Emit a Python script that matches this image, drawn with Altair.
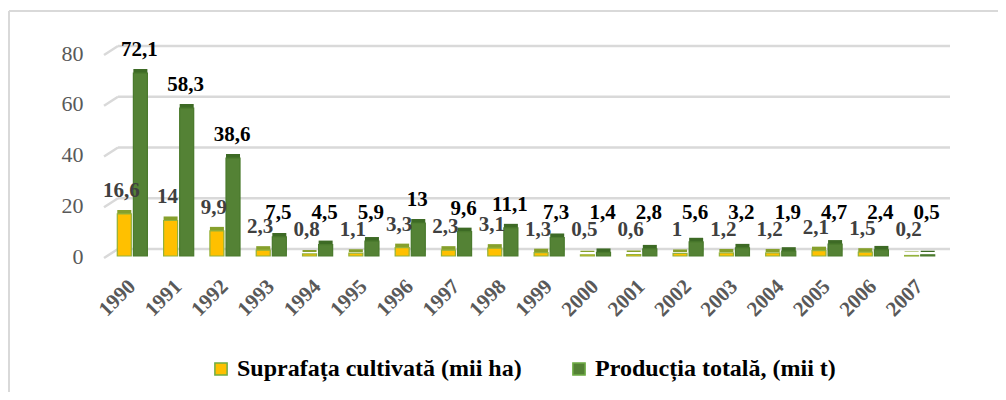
import altair as alt
import pandas as pd

years = [str(y) for y in range(1990, 2008)]
series_names = ["Suprafața cultivată (mii ha)", "Producția totală, (mii t)"]
suprafata = [16.6, 14, 9.9, 2.3, 0.8, 1.1, 3.3, 2.3, 3.1, 1.3, 0.5, 0.6, 1, 1.2, 1.2, 2.1, 1.5, 0.2]
productia = [72.1, 58.3, 38.6, 7.5, 4.5, 5.9, 13, 9.6, 11.1, 7.3, 1.4, 2.8, 5.6, 3.2, 1.9, 4.7, 2.4, 0.5]
y_ticks = [0, 20, 40, 60, 80]

rows = []
for y, a, b in zip(years, suprafata, productia):
    rows.append({"year": y, "series": series_names[0], "value": a, "label": f"{a:g}".replace(".", ",")})
    rows.append({"year": y, "series": series_names[1], "value": b, "label": f"{b:g}".replace(".", ",")})
df = pd.DataFrame(rows)

SERIF = "'Liberation Serif', 'Times New Roman', Times, 'DejaVu Serif', serif"
W, H = 848, 203

x_enc = alt.X("year:N", sort=years, scale=alt.Scale(paddingInner=0.35, paddingOuter=0.33),
              axis=alt.Axis(title=None, labelAngle=-45, labelFont=SERIF, labelFontSize=21,
                            labelFontWeight="bold", labelColor="#595959", labelPadding=27,
                            domain=False, ticks=False, grid=False, labelAlign="right",
                            labelBaseline="middle"))
y_scale = alt.Scale(domain=[0, 80])
y_axis = alt.Axis(title=None, values=y_ticks, labelFont=SERIF, labelFontSize=22,
                  labelColor="#595959", labelPadding=19, domain=False, ticks=False, grid=False)
y_enc = alt.Y("value:Q", scale=y_scale, axis=y_axis)
xo = alt.XOffset("series:N", sort=series_names, scale=alt.Scale(paddingInner=0.13))

base = alt.Chart(df)

grid_df = pd.DataFrame({"value": y_ticks})
grid_h = alt.Chart(grid_df).mark_rule(color="#d9d9d9", strokeWidth=2.5, yOffset=-7).encode(
    y=y_enc, x=alt.value(16), x2=alt.value(W))
grid_d = alt.Chart(grid_df).mark_rule(color="#d9d9d9", strokeWidth=2.5, yOffset=2, y2Offset=-7).encode(
    y=y_enc, y2=alt.Y2("value:Q"), x=alt.value(2), x2=alt.value(16))

shadow = base.mark_bar(xOffset=4, yOffset=-4).encode(
    x=x_enc, y=y_enc, xOffset=xo,
    color=alt.Color("series:N", sort=series_names, legend=None,
                    scale=alt.Scale(domain=series_names, range=["#86a02c", "#3d6a25"])),
)

bars = base.mark_bar(strokeWidth=1.2).encode(
    x=x_enc, y=y_enc, xOffset=xo,
    color=alt.Color("series:N", sort=series_names,
                    scale=alt.Scale(domain=series_names, range=["#ffc000", "#548235"]),
                    legend=alt.Legend(title=None, orient="none", legendX=107, legendY=304,
                                      direction="horizontal", symbolType="square",
                                      symbolSize=150, symbolStrokeColor="#70ad47",
                                      symbolStrokeWidth=1.5, labelFont=SERIF,
                                      labelFontSize=24, labelFontWeight="bold",
                                      labelColor="#000000", columnPadding=45,
                                      labelOffset=4, padding=0, labelLimit=500)),
    stroke=alt.Stroke("series:N", sort=series_names, legend=None,
                      scale=alt.Scale(domain=series_names, range=["#93b23c", "#4a7a2d"])),
)

lab_a = base.transform_filter(alt.datum.series == series_names[0]).transform_calculate(
    lp="max(datum.value, 1.2)"
).mark_text(
    font=SERIF, fontSize=21, fontWeight="bold", color="#404040", baseline="alphabetic", dy=-17, dx=-3
).encode(x=x_enc, y=alt.Y("lp:Q", scale=y_scale, axis=y_axis), xOffset=xo, text="label:N")

lab_b = base.transform_filter(alt.datum.series == series_names[1]).transform_calculate(
    lp="max(datum.value, 7.9)"
).mark_text(
    font=SERIF, fontSize=21, fontWeight="bold", color="#000000", baseline="alphabetic", dy=-17, dx=-1
).encode(x=x_enc, y=alt.Y("lp:Q", scale=y_scale, axis=y_axis), xOffset=xo, text="label:N")

one = alt.Chart(pd.DataFrame({"a": [0]}))
border_top = one.mark_rule(color="#d9d9d9", strokeWidth=2).encode(
    x=alt.value(-93), x2=alt.value(W + 60), y=alt.value(-42))
border_left = one.mark_rule(color="#d9d9d9", strokeWidth=2).encode(
    x=alt.value(-93), y=alt.value(-42), y2=alt.value(345))

chart = alt.layer(grid_d, grid_h, shadow, bars, lab_a, lab_b, border_top, border_left).resolve_scale(
    color="independent"
).properties(
    width=W, height=H,
    autosize=alt.AutoSizeParams(type="none"),
    padding={"left": 94, "top": 45, "right": 48, "bottom": 136},
).configure_view(stroke=None)

chart.save("out.html", embed_options={"renderer": "svg", "actions": False})
